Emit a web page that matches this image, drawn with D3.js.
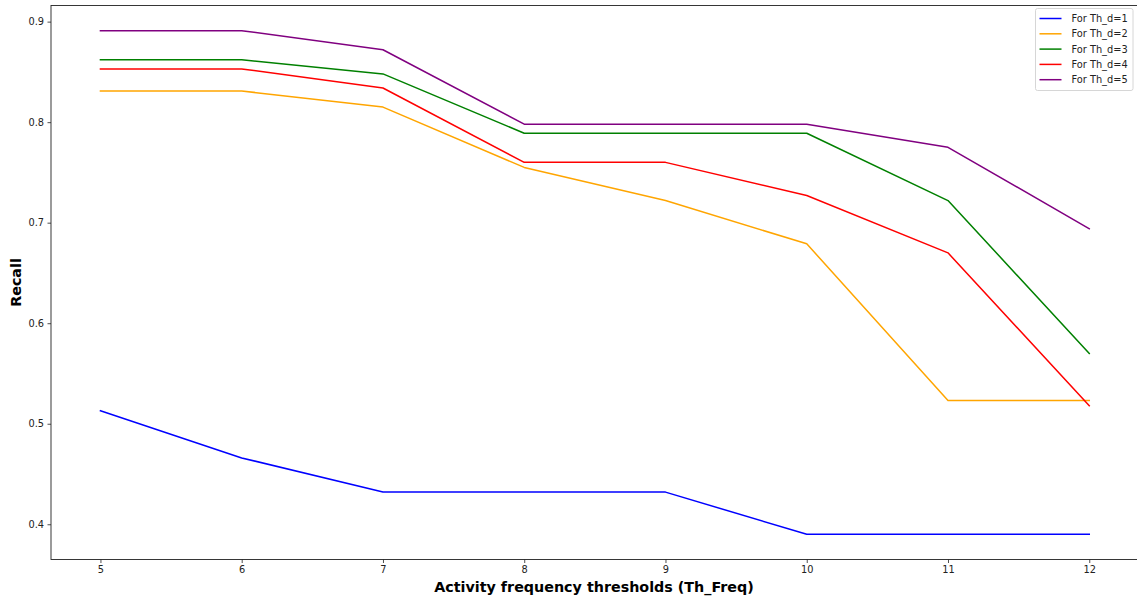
<!DOCTYPE html>
<html>
<head>
<meta charset="utf-8">
<script src="https://cdn.jsdelivr.net/npm/d3@7"></script>
<style>
  html, body { margin: 0; padding: 0; background: #fff; }
  svg { display: block; font-family: "DejaVu Sans", sans-serif; }
</style>
</head>
<body>
<svg id="chart" width="1137" height="599"></svg>
<script>
// Activity frequency thresholds on the x axis
const thresholds = [5, 6, 7, 8, 9, 10, 11, 12];

// Recall for each Th_d setting
const recallThd1 = [0.513, 0.466, 0.432, 0.432, 0.432, 0.390, 0.390, 0.390];
const recallThd2 = [0.831, 0.831, 0.815, 0.755, 0.722, 0.679, 0.523, 0.523];
const recallThd3 = [0.862, 0.862, 0.848, 0.789, 0.789, 0.789, 0.722, 0.570];
const recallThd4 = [0.853, 0.853, 0.834, 0.760, 0.760, 0.727, 0.670, 0.518];
const recallThd5 = [0.891, 0.891, 0.872, 0.798, 0.798, 0.798, 0.775, 0.694];

const seriesNames = ["For Th_d=1", "For Th_d=2", "For Th_d=3", "For Th_d=4", "For Th_d=5"];
const seriesColors = ["blue", "orange", "green", "red", "purple"];
const seriesValues = [recallThd1, recallThd2, recallThd3, recallThd4, recallThd5];

const yTicks = [0.4, 0.5, 0.6, 0.7, 0.8, 0.9];

const svg = d3.select("#chart");
const plot = { left: 51, right: 1138.7, top: 5.5, bottom: 559.5 };

// Padded domains (5% margin on each side of the data range)
const xMin = d3.min(thresholds), xMax = d3.max(thresholds);
const xPad = (xMax - xMin) * 0.05;
const allVals = seriesValues.flat();
const yMin = d3.min(allVals), yMax = d3.max(allVals);
const yPad = (yMax - yMin) * 0.05;

const x = d3.scaleLinear().domain([xMin - xPad, xMax + xPad]).range([plot.left, plot.right]);
const y = d3.scaleLinear().domain([yMin - yPad, yMax + yPad]).range([plot.bottom, plot.top]);

// Lines
const line = d3.line().x((d, i) => x(thresholds[i])).y(d => y(d));
svg.append("g").selectAll("path")
  .data(seriesValues)
  .join("path")
  .attr("d", d => line(d))
  .attr("fill", "none")
  .attr("stroke", (d, i) => seriesColors[i])
  .attr("stroke-width", 1.5)
  .attr("stroke-linejoin", "round")
  .attr("stroke-linecap", "square");

// Axes
const xAxis = d3.axisBottom(x).tickValues(thresholds).tickFormat(d3.format("d"))
  .tickSizeInner(3.5).tickSizeOuter(0).tickPadding(3.5);
const yAxis = d3.axisLeft(y).tickValues(yTicks).tickFormat(d3.format(".1f"))
  .tickSizeInner(3.5).tickSizeOuter(0).tickPadding(3.5);

const gx = svg.append("g").attr("transform", `translate(0,${plot.bottom})`).call(xAxis);
const gy = svg.append("g").attr("transform", `translate(${plot.left},0)`).call(yAxis);
[gx, gy].forEach(g => {
  g.select(".domain").remove();
  g.selectAll(".tick line").attr("stroke", "#222").attr("stroke-width", 0.8);
  g.selectAll(".tick text").attr("fill", "#222").style("font-size", "9.8px")
    .style("font-family", "'DejaVu Sans', sans-serif");
});

// Frame
svg.append("rect")
  .attr("x", plot.left).attr("y", plot.top)
  .attr("width", plot.right - plot.left).attr("height", plot.bottom - plot.top)
  .attr("fill", "none").attr("stroke", "#222").attr("stroke-width", 0.9);

// Axis titles
svg.append("text")
  .attr("x", 594).attr("y", 592)
  .attr("text-anchor", "middle")
  .style("font-size", "14.3px").style("font-weight", "bold")
  .text("Activity frequency thresholds (Th_Freq)");

svg.append("text")
  .attr("transform", `translate(21,${(plot.top + plot.bottom) / 2}) rotate(-90)`)
  .attr("text-anchor", "middle")
  .style("font-size", "14.3px").style("font-weight", "bold")
  .text("Recall");

// Legend
const lg = svg.append("g").attr("transform", "translate(1035.5,8.5)");
lg.append("rect").attr("width", 97.5).attr("height", 82).attr("rx", 2)
  .attr("fill", "#fff").attr("fill-opacity", 0.8)
  .attr("stroke", "#ccc").attr("stroke-width", 0.8);
const items = lg.selectAll("g.item").data(seriesNames).join("g")
  .attr("class", "item")
  .attr("transform", (d, i) => `translate(0,${10 + i * 15.3})`);
items.append("line").attr("x1", 4).attr("x2", 26).attr("y1", 0).attr("y2", 0)
  .attr("stroke", (d, i) => seriesColors[i]).attr("stroke-width", 1.5);
items.append("text").attr("x", 36).attr("y", 3.5)
  .style("font-size", "9.8px").attr("fill", "#222")
  .text(d => d);
</script>
</body>
</html>
